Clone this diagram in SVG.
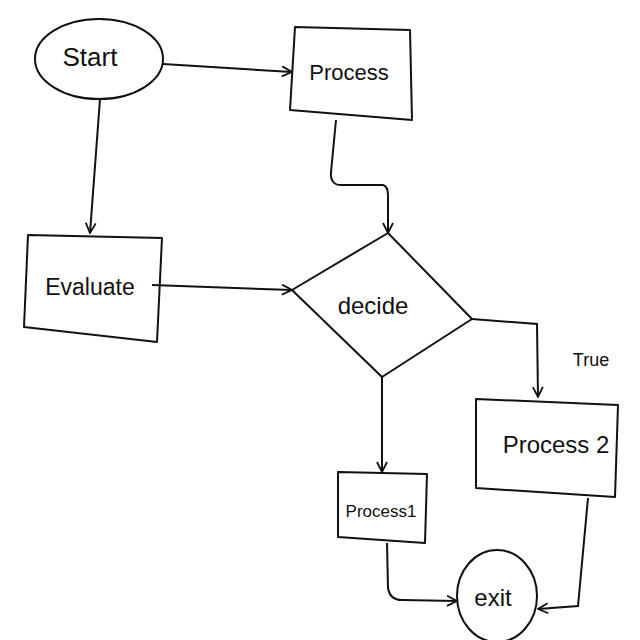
<svg xmlns="http://www.w3.org/2000/svg" width="640" height="640" viewBox="0 0 640 640">
<defs>
<marker id="arr" viewBox="0 0 12 12" refX="11" refY="6" markerWidth="12" markerHeight="12" markerUnits="userSpaceOnUse" orient="auto">
<path d="M1,1 L11,6 L1,11" fill="none" stroke="#111" stroke-width="1.8"/>
</marker>
</defs>
<style>
.sh{fill:none;stroke:#111;stroke-width:2;stroke-linejoin:round}
.cn{fill:none;stroke:#111;stroke-width:2;marker-end:url(#arr)}
.t{font-family:"Liberation Sans","DejaVu Sans",sans-serif;fill:#111;text-anchor:middle;dominant-baseline:central}
</style>
<rect width="640" height="640" fill="#fff"/>
<g id="connectors">
<path class="cn" d="M163,64 L292,72"/>
<path class="cn" d="M100,99 L90,233"/>
<path class="cn" d="M336,120 L331,172 Q330,185 341,185 L383,185 Q388,186 388,196 L388,233"/>
<path class="cn" d="M152,285 L292,290"/>
<path class="cn" d="M472,319 L537,324 L538,397"/>
<path class="cn" d="M382,377 L382,472"/>
<path class="cn" d="M387,543 L388,588 Q390,600 402,600 L457,601"/>
<path class="cn" d="M588,498 L578,606 L538,609"/>
</g>
<g id="start">
<ellipse class="sh" cx="99" cy="59" rx="64" ry="40"/>
<text class="t" x="90" y="57" font-size="26">Start</text>
</g>
<g id="process">
<polygon class="sh" points="295,27 410,30 412,120 290,110"/>
<text class="t" x="349" y="72" font-size="22">Process</text>
</g>
<g id="evaluate">
<polygon class="sh" points="28,235 162,238 157,342 24,327"/>
<text class="t" x="90" y="287" font-size="23">Evaluate</text>
</g>
<g id="decide">
<polygon class="sh" points="388,233 472,319 382,377 292,290"/>
<text class="t" x="373" y="305" font-size="24">decide</text>
</g>
<g id="true-label">
<text class="t" x="591" y="360" font-size="18">True</text>
</g>
<g id="process2">
<polygon class="sh" points="476,399 618,405 615,497 476,488"/>
<text class="t" x="556" y="444" font-size="24">Process 2</text>
</g>
<g id="process1">
<polygon class="sh" points="338,472 427,474 425,543 338,537"/>
<text class="t" x="381" y="511" font-size="17">Process1</text>
</g>
<g id="exit">
<ellipse class="sh" cx="497" cy="596" rx="40" ry="46"/>
<text class="t" x="493" y="597" font-size="24">exit</text>
</g>
</svg>
